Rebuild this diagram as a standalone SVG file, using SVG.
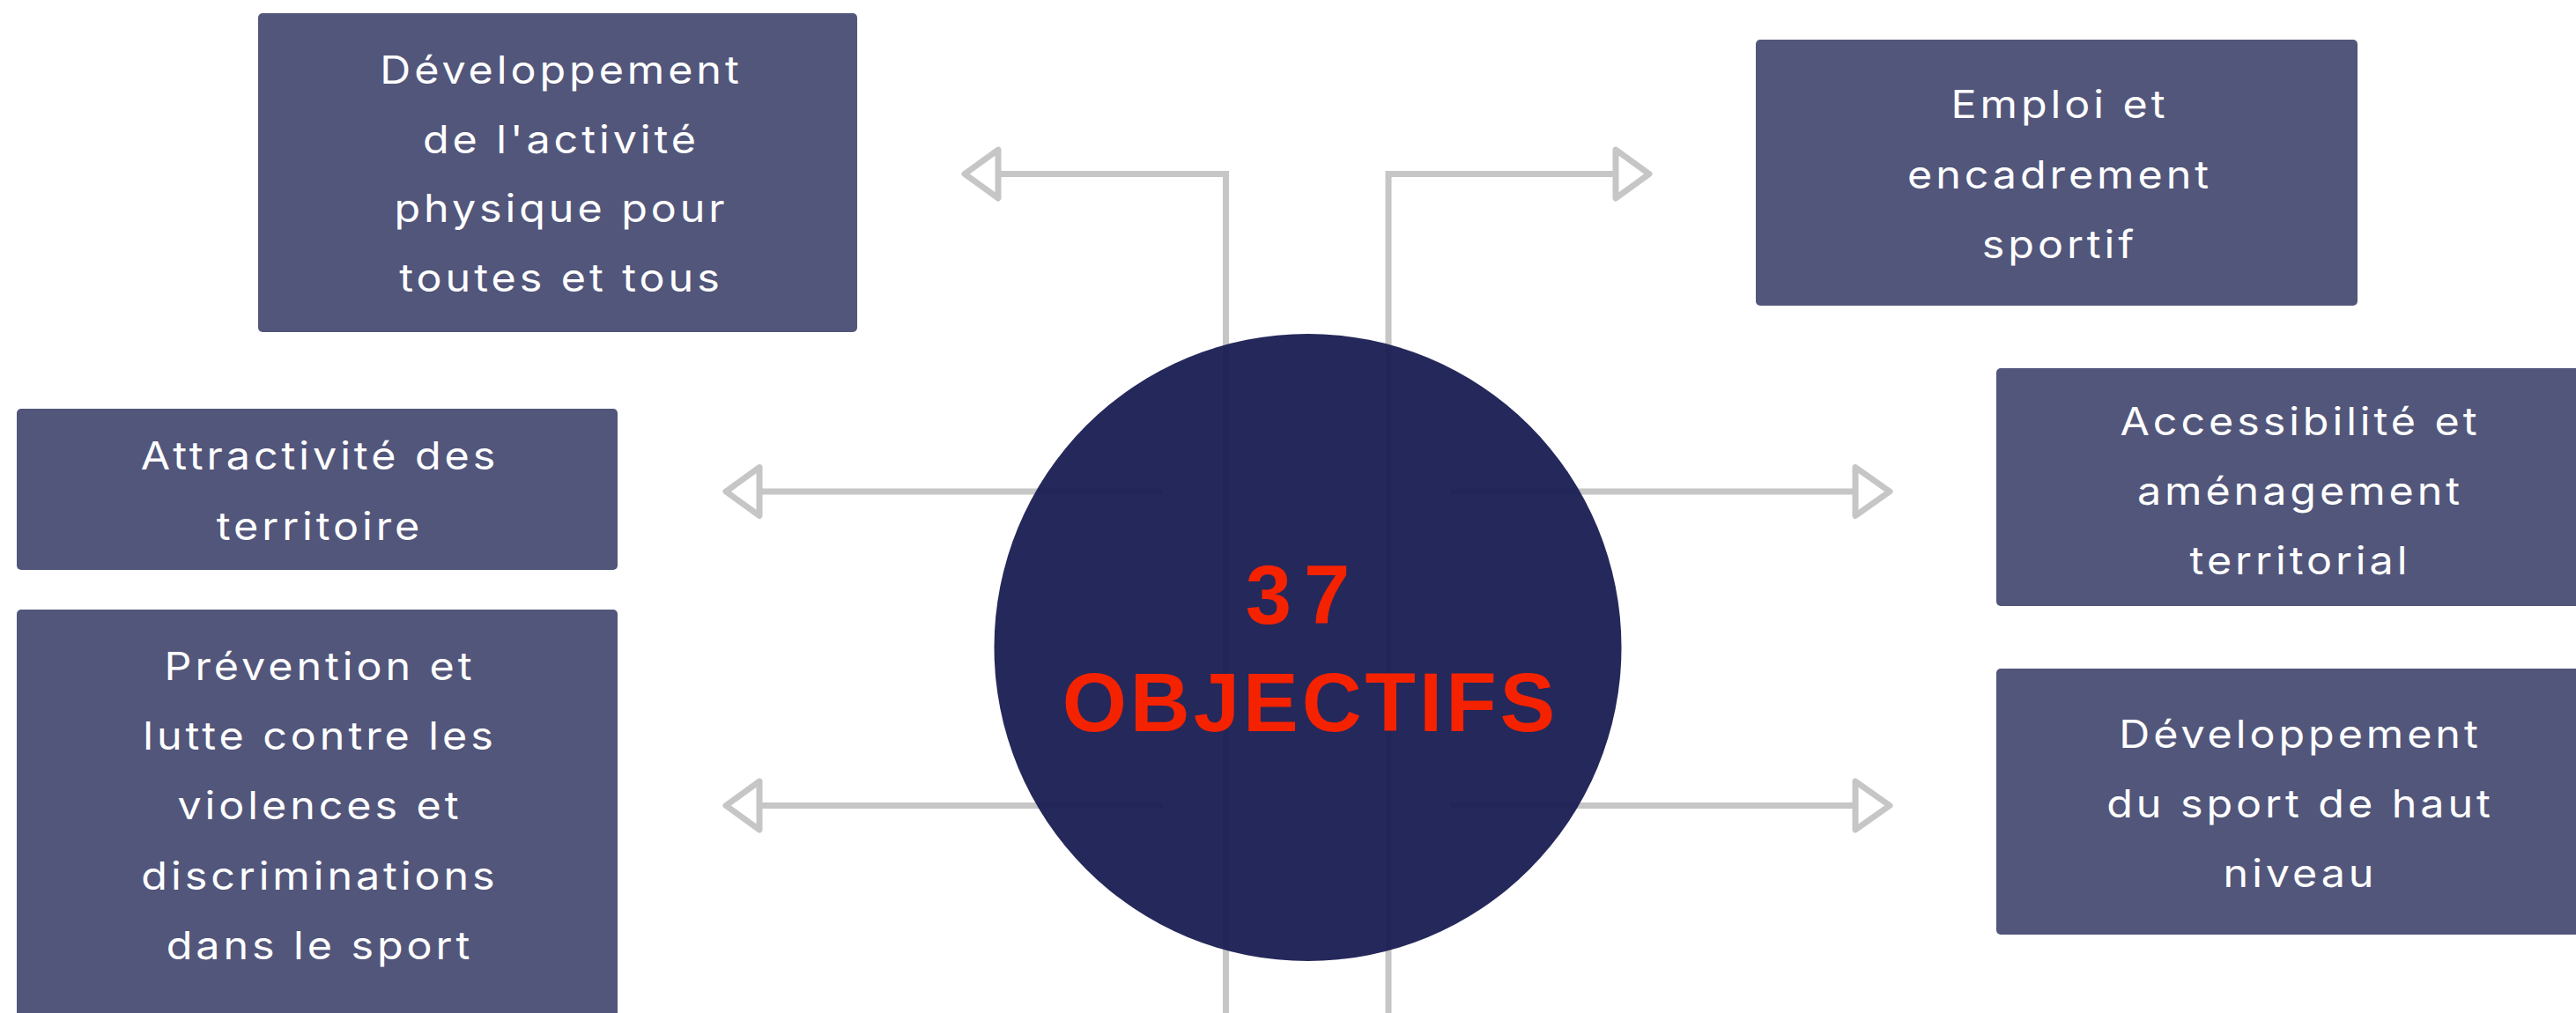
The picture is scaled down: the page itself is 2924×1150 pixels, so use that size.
<svg xmlns="http://www.w3.org/2000/svg" width="2924" height="1150" viewBox="0 0 2924 1150">
<style>
.box{fill:#52567b}
.t{font-family:Inter,"Open Sans","Liberation Sans",sans-serif;font-size:44px;fill:#ffffff;text-anchor:middle;letter-spacing:3.6px}
.ln{fill:none;stroke:#c6c6c6;stroke-width:7}
.ah{fill:#ffffff;stroke:#c6c6c6;stroke-width:7;stroke-linejoin:round}
.big{font-family:"Liberation Sans",Arial,sans-serif;font-weight:bold;font-size:94px;fill:#f52200;text-anchor:middle}
</style>
<rect width="2924" height="1150" fill="#ffffff"/>
<g id="connectors">
<polyline class="ln" points="1133,197.5 1391.5,197.5 1391.5,1150"/>
<polyline class="ln" points="1834,197.5 1576,197.5 1576,1150"/>
<line class="ln" x1="862" y1="558" x2="1320" y2="558"/>
<line class="ln" x1="862" y1="914.5" x2="1320" y2="914.5"/>
<line class="ln" x1="1647" y1="558" x2="2106" y2="558"/>
<line class="ln" x1="1647" y1="914.5" x2="2106" y2="914.5"/>
<path class="ah" d="M1133,170 L1095,197.5 L1133,225 Z"/>
<path class="ah" d="M1834,170 L1872,197.5 L1834,225 Z"/>
<path class="ah" d="M862,530.5 L824,558 L862,585.5 Z"/>
<path class="ah" d="M862,887 L824,914.5 L862,942 Z"/>
<path class="ah" d="M2106,530.5 L2145,558 L2106,585.5 Z"/>
<path class="ah" d="M2106,887 L2145,914.5 L2106,942 Z"/>
</g>
<g id="center">
<circle cx="1484.5" cy="735" r="356" fill="#191c51" fill-opacity="0.95"/>
<text class="big" x="1480" y="708" letter-spacing="14">37</text>
<text class="big" x="1487.5" y="830" letter-spacing="4">OBJECTIFS</text>
</g>
<g id="n-activite">
<rect class="box" x="293" y="15" width="680" height="362" rx="5"/>
<g transform="translate(635,0) scale(1.1,1)">
<text class="t" x="1.8" y="95">Développement</text>
<text class="t" x="1.8" y="174">de l'activité</text>
<text class="t" x="1.8" y="252">physique pour</text>
<text class="t" x="1.8" y="331">toutes et tous</text>
</g>
</g>
<g id="n-attractivite">
<rect class="box" x="19" y="464" width="682" height="183" rx="5"/>
<g transform="translate(361,0) scale(1.1,1)">
<text class="t" x="1.8" y="533">Attractivité des</text>
<text class="t" x="1.8" y="613">territoire</text>
</g>
</g>
<g id="n-prevention">
<rect class="box" x="19" y="692" width="682" height="470" rx="5"/>
<g transform="translate(361,0) scale(1.1,1)">
<text class="t" x="1.8" y="772">Prévention et</text>
<text class="t" x="1.8" y="851">lutte contre les</text>
<text class="t" x="1.8" y="930">violences et</text>
<text class="t" x="1.8" y="1010">discriminations</text>
<text class="t" x="1.8" y="1089">dans le sport</text>
</g>
</g>
<g id="n-emploi">
<rect class="box" x="1993" y="45" width="683" height="302" rx="5"/>
<g transform="translate(2336,0) scale(1.1,1)">
<text class="t" x="1.8" y="134">Emploi et</text>
<text class="t" x="1.8" y="214">encadrement</text>
<text class="t" x="1.8" y="293">sportif</text>
</g>
</g>
<g id="n-accessibilite">
<rect class="box" x="2266" y="418" width="683" height="270" rx="5"/>
<g transform="translate(2609,0) scale(1.1,1)">
<text class="t" x="1.8" y="494">Accessibilité et</text>
<text class="t" x="1.8" y="573">aménagement</text>
<text class="t" x="1.8" y="652">territorial</text>
</g>
</g>
<g id="n-haut-niveau">
<rect class="box" x="2266" y="759" width="683" height="302" rx="5"/>
<g transform="translate(2609,0) scale(1.1,1)">
<text class="t" x="1.8" y="849">Développement</text>
<text class="t" x="1.8" y="928">du sport de haut</text>
<text class="t" x="1.8" y="1007">niveau</text>
</g>
</g>
</svg>
